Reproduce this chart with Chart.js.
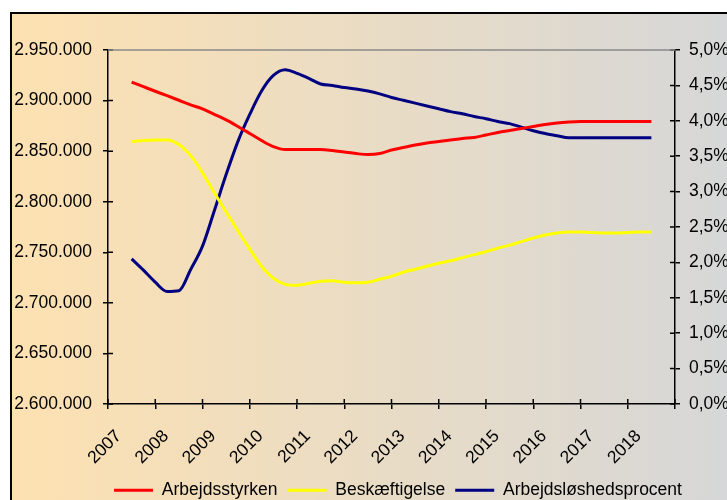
<!DOCTYPE html>
<html>
<head>
<meta charset="utf-8">
<script src="https://cdn.jsdelivr.net/npm/chart.js@4"></script>
<style>
  html, body { margin: 0; padding: 0; background: #fff; overflow: hidden; width: 727px; height: 500px; }
  #ramme {
    position: absolute; left: 10px; top: 12px;
    width: 772px; height: 502px;
    border: 2px solid #000;
    background: linear-gradient(to right, #fde1b1 0%, #d6d7d8 93%, #d4d6d8 100%);
  }
  #boks { position: relative; width: 772px; height: 502px; }
</style>
</head>
<body>
<div id="ramme"><div id="boks"><canvas id="graf"></canvas></div></div>
<script>
// kvartaler (årstal som decimaltal)
const kvartaler = [
  2007, 2007.25, 2007.5, 2007.75, 2008, 2008.25, 2008.5, 2008.75,
  2009, 2009.25, 2009.5, 2009.75, 2010, 2010.25, 2010.5, 2010.75,
  2011, 2011.25, 2011.5, 2011.75, 2012, 2012.25, 2012.5, 2012.75,
  2013, 2013.25, 2013.5, 2013.75, 2014, 2014.25, 2014.5, 2014.75,
  2015, 2015.25, 2015.5, 2015.75, 2016, 2016.25, 2016.5, 2016.75,
  2017, 2017.25, 2017.5, 2017.75, 2018
];

const arbejdsstyrken = [
  2918200, 2913700, 2909200, 2904800, 2900300, 2895800, 2891800, 2886400,
  2880900, 2874400, 2867500, 2860500, 2854500, 2851600, 2851600, 2851600,
  2851600, 2850600, 2849100, 2847600, 2846600, 2847600, 2851100, 2853600,
  2856000, 2858000, 2859500, 2861000, 2862500, 2863500, 2866000, 2868500,
  2870500, 2872400, 2874400, 2876400, 2877900, 2878900, 2879400, 2879400,
  2879400, 2879400, 2879400, 2879400, 2879400
];

const beskaeftigelse = [
  2859500, 2860500, 2861000, 2861000, 2856500, 2845600, 2828700, 2808800,
  2789900, 2771000, 2753100, 2736200, 2724300, 2718300, 2717300, 2719300,
  2721300, 2721800, 2720300, 2719800, 2720300, 2723300, 2726300, 2730300,
  2733200, 2736200, 2739200, 2741700, 2744700, 2747700, 2750600, 2754100,
  2757100, 2760600, 2764100, 2767100, 2769000, 2770000, 2770000, 2769500,
  2769000, 2769000, 2769500, 2770000, 2770000
];

// procent
const ledighedsprocent = [
  2.05, 1.89, 1.72, 1.59, 1.60, 1.90, 2.23, 2.73,
  3.24, 3.71, 4.09, 4.42, 4.64, 4.72, 4.67, 4.60,
  4.52, 4.50, 4.47, 4.45, 4.42, 4.38, 4.33, 4.29,
  4.25, 4.21, 4.17, 4.13, 4.10, 4.06, 4.03, 3.99,
  3.96, 3.91, 3.86, 3.82, 3.79, 3.76, 3.76, 3.76,
  3.76, 3.76, 3.76, 3.76, 3.76
];

const serieNavne = ['Arbejdsstyrken', 'Beskæftigelse', 'Arbejdsløshedsprocent'];
const serieFarver = ['#ff0000', '#ffff00', '#000080'];

const skrift = { family: '"Liberation Sans", Arial, sans-serif', size: 17.5 };

// små streger ind i plotområdet + grå topkant
const indreStreger = {
  id: 'indreStreger',
  afterDraw(chart) {
    const { ctx, chartArea: a, scales } = chart;
    ctx.save();
    ctx.strokeStyle = '#000';
    ctx.lineWidth = 1.5;
    ctx.beginPath();
    scales.y.ticks.forEach(t => {
      const py = scales.y.getPixelForValue(t.value);
      ctx.moveTo(a.left, py); ctx.lineTo(a.left + 5, py);
    });
    scales.y1.ticks.forEach(t => {
      const py = scales.y1.getPixelForValue(t.value);
      ctx.moveTo(a.right - 5, py); ctx.lineTo(a.right, py);
    });
    scales.x.ticks.forEach(t => {
      if (Number.isInteger(t.value)) return;
      const px = scales.x.getPixelForValue(t.value);
      ctx.moveTo(px, a.bottom - 5); ctx.lineTo(px, a.bottom);
    });
    ctx.stroke();
    ctx.strokeStyle = '#8a8a8a';
    ctx.lineWidth = 1.5;
    ctx.beginPath();
    ctx.moveTo(a.left, a.top); ctx.lineTo(a.right, a.top);
    ctx.stroke();
    ctx.restore();
  }
};

const formaterTal = v => String(Math.round(v)).replace(/\B(?=(\d{3})+(?!\d))/g, '.');

new Chart(document.getElementById('graf'), {
  type: 'line',
  data: {
    labels: kvartaler,
    datasets: [
      { label: serieNavne[0], data: arbejdsstyrken, yAxisID: 'y' },
      { label: serieNavne[1], data: beskaeftigelse, yAxisID: 'y' },
      { label: serieNavne[2], data: ledighedsprocent, yAxisID: 'y1' }
    ].map((d, i) => Object.assign(d, {
      borderColor: serieFarver[i],
      backgroundColor: serieFarver[i],
      borderWidth: 3,
      pointRadius: 0,
      cubicInterpolationMode: 'monotone',
      fill: false
    }))
  },
  options: {
    responsive: true,
    maintainAspectRatio: false,
    animation: false,
    layout: { padding: { top: 36, left: 0, right: 0, bottom: 7 } },
    plugins: {
      tooltip: { enabled: false },
      legend: {
        position: 'bottom',
        labels: {
          font: skrift,
          color: '#000',
          boxWidth: 39,
          boxHeight: 0,
          padding: 10
        }
      }
    },
    scales: {
      x: {
        type: 'linear',
        min: 2006.5,
        max: 2018.5,
        afterFit: s => { s.height = 67.5; },
        border: { display: true, color: '#000', width: 1.5 },
        grid: {
          drawOnChartArea: false,
          tickLength: 5,
          lineWidth: 1.5,
          tickColor: c => Number.isInteger(c.tick.value) ? 'rgba(0,0,0,0)' : '#000'
        },
        ticks: {
          stepSize: 0.5,
          maxTicksLimit: 100,
          autoSkip: false,
          minRotation: 45,
          maxRotation: 45,
          labelOffset: -13,
          padding: 17,
          color: '#000',
          font: skrift,
          callback: v => Number.isInteger(v) ? String(v) : ''
        }
      },
      y: {
        position: 'left',
        min: 2600000,
        max: 2950000,
        afterFit: s => { s.width = 96; },
        border: { display: true, color: '#000', width: 1.5 },
        grid: { drawOnChartArea: false, tickLength: 5, color: '#000', lineWidth: 1.5 },
        ticks: { stepSize: 50000, padding: 11, color: '#000', font: skrift, callback: formaterTal }
      },
      y1: {
        position: 'right',
        min: 0,
        max: 5,
        afterFit: s => { s.width = 109; },
        border: { display: true, color: '#000', width: 1.5 },
        grid: { drawOnChartArea: false, tickLength: 5, color: '#000', lineWidth: 1.5 },
        ticks: {
          stepSize: 0.5, padding: 9, color: '#000', font: skrift,
          callback: v => v.toFixed(1).replace('.', ',') + '%'
        }
      }
    }
  },
  plugins: [indreStreger]
});
</script>
</body>
</html>
